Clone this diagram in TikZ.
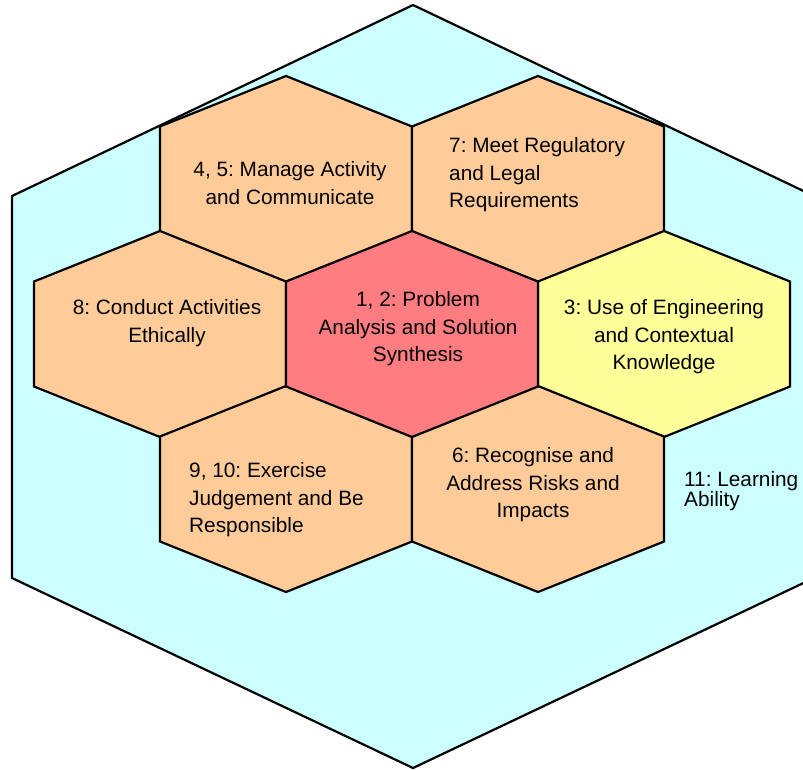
\documentclass[tikz,border=0pt]{standalone}
\usepackage{fontspec}
\setmainfont{Liberation Sans}
\frenchspacing
\definecolor{outerfill}{HTML}{CCFFFF}
\definecolor{peach}{HTML}{FFCC99}
\definecolor{coral}{HTML}{FF7C80}
\definecolor{lemon}{HTML}{FFFF99}
\tikzset{
  cell/.style={draw=black, line width=2.2pt, line join=miter},
  label/.style={font=\fontsize{20.8}{27.5}\selectfont, inner sep=0pt, text=black},
}
% one honeycomb cell: centre x, centre y, fill colour
\newcommand\honeycell[3]{%
  \filldraw[cell, fill=#3, shift={(#1,#2)}]
    (0,-103) -- (126,-52.5) -- (126,52.5) -- (0,103) -- (-126,52.5) -- (-126,-52.5) -- cycle;}
\begin{document}
\begin{tikzpicture}[x=1pt, y=-1pt]
\useasboundingbox (0,0) rectangle (803,769);
\begin{scope}
\clip (0,0) rectangle (803,769);
% outer cell: learning ability
\filldraw[cell, fill=outerfill]
  (413,5) -- (814,196) -- (814,578) -- (413,768) -- (12,578) -- (12,196) -- cycle;
% inner honeycomb
\honeycell{286}{179}{peach}
\honeycell{538}{179}{peach}
\honeycell{160}{334}{peach}
\honeycell{664}{334}{lemon}
\honeycell{286}{489}{peach}
\honeycell{538}{489}{peach}
\honeycell{412}{334}{coral}
\end{scope}
% labels
\node[label, align=center] (manage) at (290,183) {4, 5: Manage Activity\\and Communicate};
\node[label, align=left, anchor=west] (regulatory) at (449,175) {7: Meet Regulatory\\and Legal\\Requirements};
\node[label, align=center] (ethics) at (167,323) {8: Conduct Activities\\Ethically};
\node[label, align=center] (problem) at (418,329) {1, 2: Problem\\Analysis and Solution\\Synthesis};
\node[label, align=center] (knowledge) at (664,337) {3: Use of Engineering\\and Contextual\\Knowledge};
\node[label, align=left, anchor=west] (judgement) at (189,500) {9, 10: Exercise\\Judgement and Be\\Responsible};
\node[label, align=center] (risks) at (533,485) {6: Recognise and\\Address Risks and\\Impacts};
\node[font=\fontsize{20.8}{20.5}\selectfont, inner sep=0pt, align=left, anchor=west] (learning) at (684,491) {11: Learning\\Ability};
\end{tikzpicture}
\end{document}
